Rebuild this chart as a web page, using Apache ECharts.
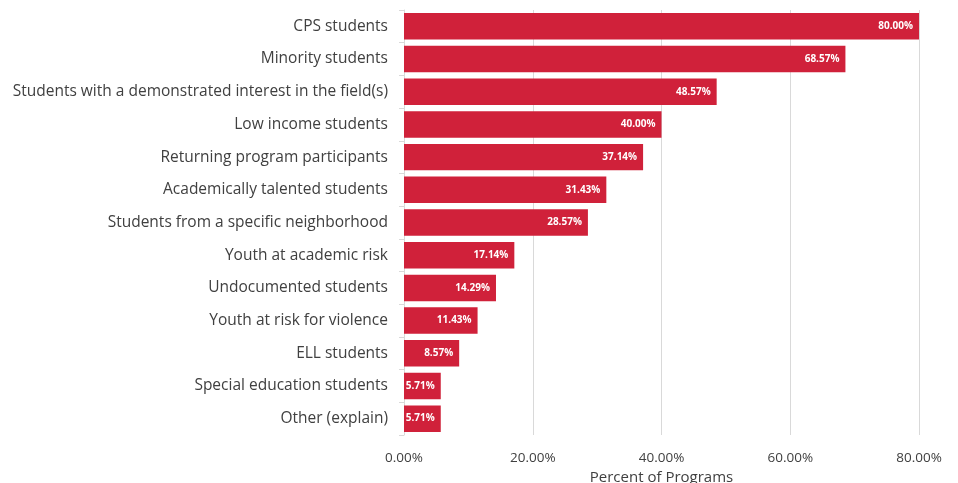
<!DOCTYPE html>
<html>
<head>
<meta charset="utf-8">
<script src="https://cdn.jsdelivr.net/npm/echarts@6/dist/echarts.min.js"></script>
<style>
  html, body { margin: 0; padding: 0; background: #ffffff; }
  #chart { width: 958px; height: 483px; }
</style>
</head>
<body>
<div id="chart"></div>
<script>
// Target populations served, share of programs
const categories = [
  'CPS students',
  'Minority students',
  'Students with a demonstrated interest in the field(s)',
  'Low income students',
  'Returning program participants',
  'Academically talented students',
  'Students from a specific neighborhood',
  'Youth at academic risk',
  'Undocumented students',
  'Youth at risk for violence',
  'ELL students',
  'Special education students',
  'Other (explain)'
];
const percentValues = [80.00, 68.57, 48.57, 40.00, 37.14, 31.43, 28.57, 17.14, 14.29, 11.43, 8.57, 5.71, 5.71];
const xTicks = { min: 0, max: 80, interval: 20 };

const FONT = '"Open Sans", Lato, sans-serif';

const chart = echarts.init(document.getElementById('chart'));
chart.setOption({
  animation: false,
  grid: { left: 404, right: 39, top: 10, bottom: 48, containLabel: false, outerBoundsMode: 'none' },
  xAxis: {
    type: 'value',
    min: xTicks.min,
    max: xTicks.max,
    interval: xTicks.interval,
    name: 'Percent of Programs',
    nameLocation: 'middle',
    nameGap: 32,
    nameTextStyle: { fontFamily: FONT, fontSize: 15, color: '#404040' },
    axisLine: { show: false },
    axisTick: { show: false },
    axisLabel: {
      fontFamily: FONT, fontSize: 13.5, color: '#404040', margin: 16,
      formatter: v => v.toFixed(2) + '%'
    },
    splitLine: { show: true, lineStyle: { color: '#d9d9d9', width: 1 } }
  },
  yAxis: {
    type: 'category',
    data: categories,
    inverse: true,
    axisLine: { show: true, lineStyle: { color: '#d9d9d9', width: 1 } },
    axisTick: { show: true, length: 5, lineStyle: { color: '#d9d9d9' } },
    axisLabel: { fontFamily: FONT, fontSize: 15.5, color: '#404040', margin: 16 },
    splitLine: { show: false }
  },
  series: [{
    type: 'bar',
    data: percentValues,
    barCategoryGap: '19%',
    itemStyle: { color: '#d0213a' },
    label: {
      show: true,
      position: 'insideRight',
      distance: 6,
      color: '#ffffff',
      fontFamily: FONT,
      fontWeight: 'bold',
      fontSize: 10,
      formatter: p => p.value.toFixed(2) + '%'
    }
  }]
});
</script>
</body>
</html>
